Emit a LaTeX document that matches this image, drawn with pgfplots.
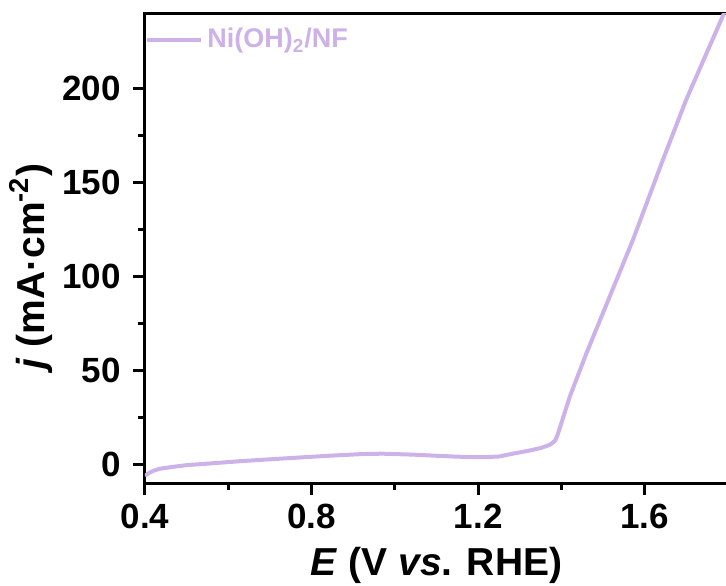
\documentclass[border=0pt]{standalone}
\usepackage{fontspec}
\setmainfont{Liberation Sans}
\usepackage{pgfplots}
\pgfplotsset{compat=1.18}
\definecolor{lilac}{RGB}{204,178,232}

\begin{document}
\begin{tikzpicture}
\begin{axis}[
  at={(0,0)}, anchor=south west,
  width=291.5pt, height=235pt, scale only axis,
  xmin=0.4, xmax=1.8, ymin=-10, ymax=240,
  xtick={0.4,0.8,1.2,1.6}, ytick={0,50,100,150,200},
  minor x tick num=1, minor y tick num=1,
  xtick pos=bottom, ytick pos=left,
  tick align=outside,
  major tick length=6pt, minor tick length=3.5pt,
  every tick/.style={black, line width=1.5pt},
  axis line style={line width=1.5pt},
  /pgf/number format/assume math mode=true,
  tick label style={font=\bfseries\fontsize{17.5}{18}\selectfont},
  yticklabel style={xshift=-2.5pt},
  xticklabel style={yshift=-1pt, /pgf/number format/fixed, /pgf/number format/precision=1, /pgf/number format/fixed zerofill},
  label style={font=\bfseries\fontsize{19.5}{20}\selectfont},
  xlabel={\textit{E} (V \textit{vs}. RHE)},
  ylabel={\textit{j} (mA·cm\textsuperscript{-2})},
  xlabel style={at={(axis description cs:0.5,0)}, anchor=center, yshift=-41pt},
  ylabel style={at={(axis description cs:0,0.46)}, anchor=center, yshift=57pt},
  legend style={draw=none, fill=none, at={(axis description cs:0,1)}, anchor=north west,
    xshift=-3pt, yshift=-3.5pt, text=lilac, font=\bfseries\fontsize{13.5}{14}\selectfont},
  legend image code/.code={\draw[#1] (0pt,0pt) -- (27pt,0pt);},
]
% data: LSV Ni(OH)2/NF
\addplot[color=lilac, line width=2pt] coordinates {
(0.400,-6.2) (0.410,-4.6) (0.420,-3.5) (0.436,-2.4) (0.467,-1.4) (0.500,-0.5)
(0.550,0.3) (0.628,1.6) (0.700,2.6) (0.788,3.8) (0.850,4.6) (0.923,5.4)
(0.970,5.6) (1.043,5.1) (1.100,4.5) (1.150,4.0) (1.211,3.7) (1.250,4.1)
(1.283,5.6) (1.324,7.3) (1.350,8.6) (1.372,10.3) (1.385,12.5) (1.392,16.4)
(1.420,35.9) (1.460,59.0) (1.516,89.2) (1.572,119.5) (1.644,162.1) (1.700,194.1)
(1.788,238.6) (1.795,242)
};
\addlegendentry{Ni(OH)\textsubscript{2}/NF}
\end{axis}
\pgfresetboundingbox
\path[use as bounding box] (-72.5pt,-51pt) rectangle (290.5pt,241.5pt);
\end{tikzpicture}
\end{document}
